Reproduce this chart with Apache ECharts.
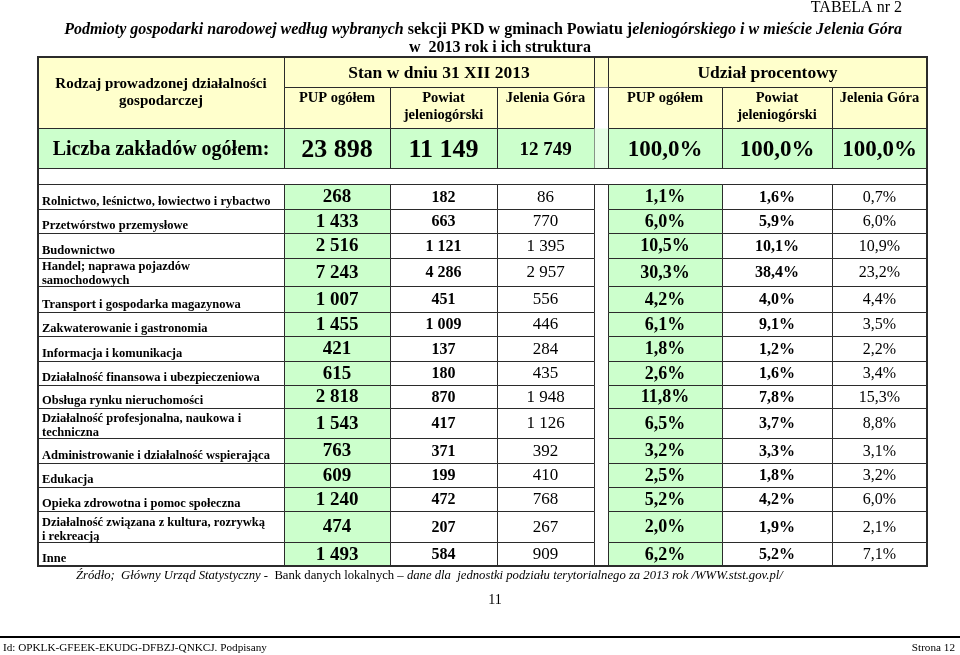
<!DOCTYPE html>
<html><head><meta charset="utf-8">
<script src="https://cdn.jsdelivr.net/npm/echarts@6/dist/echarts.min.js"></script>
<style>html,body{margin:0;padding:0;background:#fff}#c{width:960px;height:655px}</style>
</head><body><div id="c"></div>
<script>
// ---- data ----
const categories = [
  'Rolnictwo, leśnictwo, łowiectwo i rybactwo',
  'Przetwórstwo przemysłowe',
  'Budownictwo',
  'Handel; naprawa pojazdów\nsamochodowych',
  'Transport i gospodarka magazynowa',
  'Zakwaterowanie i gastronomia',
  'Informacja i komunikacja',
  'Działalność finansowa i ubezpieczeniowa',
  'Obsługa rynku nieruchomości',
  'Działalność profesjonalna, naukowa i\ntechniczna',
  'Administrowanie i działalność wspierająca',
  'Edukacja',
  'Opieka zdrowotna i pomoc społeczna',
  'Działalność związana z kultura, rozrywką\ni rekreacją',
  'Inne'
];
const pupCount    = [268, 1433, 2516, 7243, 1007, 1455, 421, 615, 2818, 1543, 763, 609, 1240, 474, 1493];
const powiatCount = [182, 663, 1121, 4286, 451, 1009, 137, 180, 870, 417, 371, 199, 472, 207, 584];
const jgCount     = [86, 770, 1395, 2957, 556, 446, 284, 435, 1948, 1126, 392, 410, 768, 267, 909];
const pupPct      = [1.1, 6.0, 10.5, 30.3, 4.2, 6.1, 1.8, 2.6, 11.8, 6.5, 3.2, 2.5, 5.2, 2.0, 6.2];
const powiatPct   = [1.6, 5.9, 10.1, 38.4, 4.0, 9.1, 1.2, 1.6, 7.8, 3.7, 3.3, 1.8, 4.2, 1.9, 5.2];
const jgPct       = [0.7, 6.0, 10.9, 23.2, 4.4, 3.5, 2.2, 3.4, 15.3, 8.8, 3.1, 3.2, 6.0, 2.1, 7.1];
const totalCount  = [23898, 11149, 12749];
const totalPct    = [100.0, 100.0, 100.0];
const groupHeaders = ['Stan w dniu 31 XII 2013', 'Udział procentowy'];
const subHeaders  = ['PUP ogółem', 'Powiat\njeleniogórski', 'Jelenia Góra'];
const firstHeader = 'Rodzaj prowadzonej działalności\ngospodarczej';
const totalLabel  = 'Liczba zakładów ogółem:';

// ---- layout ----
const SERIF = '"Liberation Serif", "Times New Roman", serif';
const colX = [38, 284, 390, 497, 594, 608, 722, 832, 927];
const headTop = 57, headMid = 87, headBot = 128, totBot = 168;
const rowY = [184, 209, 233, 258, 286, 312, 336, 361, 385, 408, 438, 463, 487, 511, 542, 566];
const CREAM = '#ffffcc', GREEN = '#ccffcc', LINE = '#2b2b2b';

function fmtInt(v) { return String(v).replace(/\B(?=(\d{3})+(?!\d))/g, ' '); }
function fmtPct(v) { return v.toFixed(1).replace('.', ',') + '%'; }
function f(w, s, st) { return (st || '') + ' ' + (w || 'normal') + ' ' + s + 'px ' + SERIF; }

const cells = [];
function cell(x0, x1, y0, y1, text, o) {
  cells.push(Object.assign({ x0, x1, y0, y1, text, fill: '#fff', stroke: LINE, font: f('bold', 14),
    align: 'center', vAlign: 'middle', tx: null, ty: null, lh: 16 }, o || {}));
}

// header
cell(colX[0], colX[1], headTop, headBot, firstHeader, { fill: CREAM, font: f('bold', 15), lh: 17, ty: 92.5 });
cell(colX[1], colX[4], headTop, headMid, groupHeaders[0], { fill: CREAM, font: f('bold', 17.5), ty: 73 });
cell(colX[4], colX[5], headTop, headMid, '', { fill: CREAM });
cell(colX[5], colX[8], headTop, headMid, groupHeaders[1], { fill: CREAM, font: f('bold', 17.5), ty: 73 });
cell(colX[4], colX[5], headMid, headBot, '', { fill: '#fff', stroke: null });
[1, 2, 3, 5, 6, 7].forEach((j, k) => {
  cell(colX[j], colX[j + 1], headMid, headBot, subHeaders[k % 3], { fill: CREAM, font: f('bold', 14.5), lh: 17, vAlign: 'top', ty: 90 });
});
// totals
cell(colX[0], colX[1], headBot, totBot, totalLabel, { fill: GREEN, font: f('bold', 20), ty: 150 });
const totFonts = [f('bold', 26), f('bold', 26), f('bold', 19)];
[1, 2, 3].forEach((j, k) => cell(colX[j], colX[j + 1], headBot, totBot, fmtInt(totalCount[k]), { fill: GREEN, font: totFonts[k], ty: 150 }));
cell(colX[4], colX[5], headBot, totBot, '', { fill: '#e6ffe6', stroke: null });
[5, 6, 7].forEach((j, k) => cell(colX[j], colX[j + 1], headBot, totBot, fmtPct(totalPct[k]), { fill: GREEN, font: f('bold', 23), ty: 150 }));
// spacer row
cell(colX[0], colX[8], totBot, rowY[0], '', { fill: '#fff' });
// data rows
const colSpec = [
  { j: 1, vals: pupCount, fmt: fmtInt, fill: GREEN, font: f('bold', 19) },
  { j: 2, vals: powiatCount, fmt: fmtInt, fill: '#fff', font: f('bold', 16) },
  { j: 3, vals: jgCount, fmt: fmtInt, fill: '#fff', font: f('normal', 17) },
  { j: 5, vals: pupPct, fmt: fmtPct, fill: GREEN, font: f('bold', 18) },
  { j: 6, vals: powiatPct, fmt: fmtPct, fill: '#fff', font: f('bold', 16) },
  { j: 7, vals: jgPct, fmt: fmtPct, fill: '#fff', font: f('normal', 16) }
];
categories.forEach((name, r) => {
  const y0 = rowY[r], y1 = rowY[r + 1];
  const twoLine = name.indexOf('\n') >= 0;
  cell(colX[0], colX[1], y0, y1, name, { font: f('bold', 12.5), align: 'left', vAlign: 'bottom', tx: colX[0] + 4, ty: twoLine ? y1 + 2 : y1, lh: 14 });
  colSpec.forEach(s => cell(colX[s.j], colX[s.j + 1], y0, y1, s.fmt(s.vals[r]), { fill: s.fill, font: s.font, ty: (y0 + y1) / 2 + 1 }));
});
// outer frame
cell(colX[0], colX[8], headTop, rowY[rowY.length - 1], '', { fill: null, lw: 2, frame: true });

function renderItem(params, api) {
  const c = cells[api.value(0)];
  const p0 = api.coord([c.x0, c.y0]);
  const p1 = api.coord([c.x1, c.y1]);
  const children = [];
  const lw = c.lw || 1;
  const off = lw % 2 ? 0.5 : 0;
  children.push({
    type: 'rect',
    shape: { x: Math.round(p0[0]) + off, y: Math.round(p0[1]) + off, width: Math.round(p1[0] - p0[0]), height: Math.round(p1[1] - p0[1]) },
    style: { fill: c.fill || 'none', stroke: c.stroke || 'none', lineWidth: lw },
    z2: c.frame ? 10 : 0
  });
  if (c.text) {
    const tx = c.tx != null ? api.coord([c.tx, 0])[0] : (p0[0] + p1[0]) / 2;
    const ty = c.ty != null ? api.coord([0, c.ty])[1] : (p0[1] + p1[1]) / 2;
    children.push({
      type: 'text', z2: 5,
      style: { text: c.text, x: tx, y: ty, font: c.font, fill: '#000', lineHeight: c.lh,
        align: c.align, textAlign: c.align, verticalAlign: c.vAlign, textVerticalAlign: c.vAlign }
    });
  }
  return { type: 'group', children };
}

const chart = echarts.init(document.getElementById('c'), null, { renderer: 'canvas' });
const rich = (st, w, s) => ({ fontStyle: st, fontWeight: w, fontSize: s, fontFamily: SERIF, fill: '#000' });
chart.setOption({
  animation: false,
  backgroundColor: '#fff',
  grid: { left: 0, right: 0, top: 0, bottom: 0 },
  xAxis: { type: 'value', min: 0, max: 960, show: false },
  yAxis: { type: 'value', min: 0, max: 655, inverse: true, show: false },
  series: [{
    type: 'custom', coordinateSystem: 'cartesian2d', silent: true,
    data: cells.map((_, i) => [i, 0]), encode: { x: 0, y: 1 },
    renderItem
  }],
  graphic: [
    { type: 'text', x: 902, y: 8, style: { text: 'TABELA nr 2', font: f('normal', 16), fill: '#000', align: 'right', textAlign: 'right', verticalAlign: 'middle', textVerticalAlign: 'middle' } },
    { type: 'text', x: 483, y: 30, style: {
      text: '{bi|Podmioty gospodarki narodowej według wybranych }{b|sekcji PKD w gminach Powiatu j}{bi|eleniogórskiego i w mieście Jelenia Góra}',
      rich: { bi: rich('italic', 'bold', 16), b: rich('normal', 'bold', 16) },
      align: 'center', textAlign: 'center', verticalAlign: 'middle', textVerticalAlign: 'middle' } },
    { type: 'text', x: 500, y: 48, style: { text: 'w  2013 rok i ich struktura', font: f('bold', 16), fill: '#000', align: 'center', textAlign: 'center', verticalAlign: 'middle', textVerticalAlign: 'middle' } },
    { type: 'text', x: 76, y: 576, style: {
      text: '{i|Źródło;  Główny Urząd Statystyczny -  }{n|Bank danych lokalnych }{i|– dane dla  jednostki podziału terytorialnego za 2013 rok /WWW.stst.gov.pl/}',
      rich: { i: rich('italic', 'normal', 12.7), n: rich('normal', 'normal', 12.7) },
      align: 'left', textAlign: 'left', verticalAlign: 'middle', textVerticalAlign: 'middle' } },
    { type: 'text', x: 495, y: 600, style: { text: '11', font: f('normal', 14), fill: '#000', align: 'center', textAlign: 'center', verticalAlign: 'middle', textVerticalAlign: 'middle' } },
    { type: 'line', shape: { x1: 0, y1: 637, x2: 960, y2: 637 }, style: { stroke: '#000', lineWidth: 2 } },
    { type: 'text', x: 3, y: 648, style: { text: 'Id: OPKLK-GFEEK-EKUDG-DFBZJ-QNKCJ. Podpisany', font: f('normal', 11.2), fill: '#000', align: 'left', textAlign: 'left', verticalAlign: 'middle', textVerticalAlign: 'middle' } },
    { type: 'text', x: 955, y: 648, style: { text: 'Strona 12', font: f('normal', 11.2), fill: '#000', align: 'right', textAlign: 'right', verticalAlign: 'middle', textVerticalAlign: 'middle' } }
  ]
});
</script></body></html>
